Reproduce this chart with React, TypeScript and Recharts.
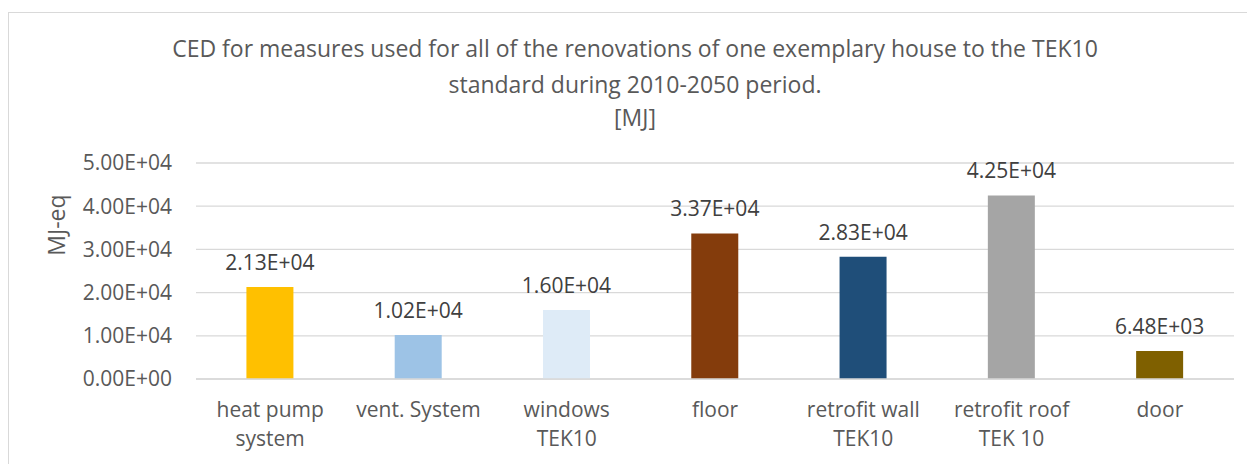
import React from 'react';
import { BarChart, Bar, XAxis, YAxis, CartesianGrid, Cell, LabelList } from 'recharts';

const categories = ['heat pump system', 'vent. System', 'windows TEK10', 'floor', 'retrofit wall TEK10', 'retrofit roof TEK 10', 'door'];
const tickLines = [['heat pump', 'system'], ['vent. System'], ['windows', 'TEK10'], ['floor'], ['retrofit wall', 'TEK10'], ['retrofit roof', 'TEK 10'], ['door']];
const values = [21300, 10200, 16000, 33700, 28300, 42500, 6480];
const colors = ['#FFC000', '#9DC3E6', '#DEEBF7', '#843C0C', '#1F4E79', '#A5A5A5', '#7F6000'];
const yTicks = [0, 10000, 20000, 30000, 40000, 50000];
const titleLines = ['CED for measures used for all of the renovations of one exemplary house to the TEK10', 'standard during 2010-2050 period.', '[MJ]'];

const data = categories.map((c, i) => ({ name: c, value: values[i] }));

const FONT = '"Open Sans", sans-serif';

const sci = (v: number) => {
  const n = Number(v);
  if (n === 0) return '0.00E+00';
  const e = Math.floor(Math.log10(Math.abs(n)));
  const m = n / Math.pow(10, e);
  const es = (e >= 0 ? '+' : '-') + String(Math.abs(e)).padStart(2, '0');
  return m.toFixed(2) + 'E' + es;
};

const XTick = (props: any) => {
  const { x, y, payload } = props;
  const idx = categories.indexOf(payload.value);
  const lines = idx >= 0 ? tickLines[idx] : [payload.value];
  return (
    <g transform={`translate(${x},${y})`}>
      {lines.map((l: string, i: number) => (
        <text key={i} x={0} y={22 + i * 29} textAnchor="middle" dominantBaseline="central" fill="#595959" fontSize={21} fontFamily={FONT}>
          {l}
        </text>
      ))}
    </g>
  );
};

export default function App() {
  return (
    <div style={{ position: 'relative', width: 1260, height: 460, fontFamily: FONT }}>
      <div style={{ position: 'absolute', left: 0, top: 4, width: 1262, height: 500, border: '1px solid #d9d9d9', boxSizing: 'border-box' }} />
      {titleLines.map((t, i) => (
        <div key={i} style={{ position: 'absolute', left: 0, width: 1254, top: [40, 76, 109][i] - 17, height: 34, lineHeight: '34px', textAlign: 'center', fontSize: 23, color: '#595959', whiteSpace: 'nowrap' }}>
          {t}
        </div>
      ))}
      <div style={{ position: 'absolute', left: 48 - 40, top: 217 - 17, width: 80, height: 34, lineHeight: '34px', textAlign: 'center', fontSize: 23, color: '#595959', transform: 'rotate(-90deg)' }}>
        MJ-eq
      </div>
      <div style={{ position: 'absolute', left: 0, top: 0 }}>
        <BarChart width={1260} height={460} data={data} margin={{ top: 155, right: 34, bottom: 29, left: 88 }} barCategoryGap="34%">
          <CartesianGrid vertical={false} stroke="#d9d9d9" strokeWidth={1.3} />
          <XAxis dataKey="name" axisLine={{ stroke: '#d9d9d9', strokeWidth: 1.3 }} tickLine={false} tick={<XTick />} height={60} interval={0} />
          <YAxis domain={[0, 50000]} ticks={yTicks} tickFormatter={sci} axisLine={false} tickLine={false} tickSize={0} tickMargin={24} width={100} tick={{ fill: '#595959', fontSize: 21, fontFamily: FONT }} />
          <Bar dataKey="value" isAnimationActive={false}>
            {data.map((d, i) => (
              <Cell key={i} fill={colors[i]} />
            ))}
            <LabelList dataKey="value" position="top" offset={17} formatter={(v: any) => sci(v)} fill="#404040" fontSize={21} fontFamily={FONT} />
          </Bar>
        </BarChart>
      </div>
    </div>
  );
}
